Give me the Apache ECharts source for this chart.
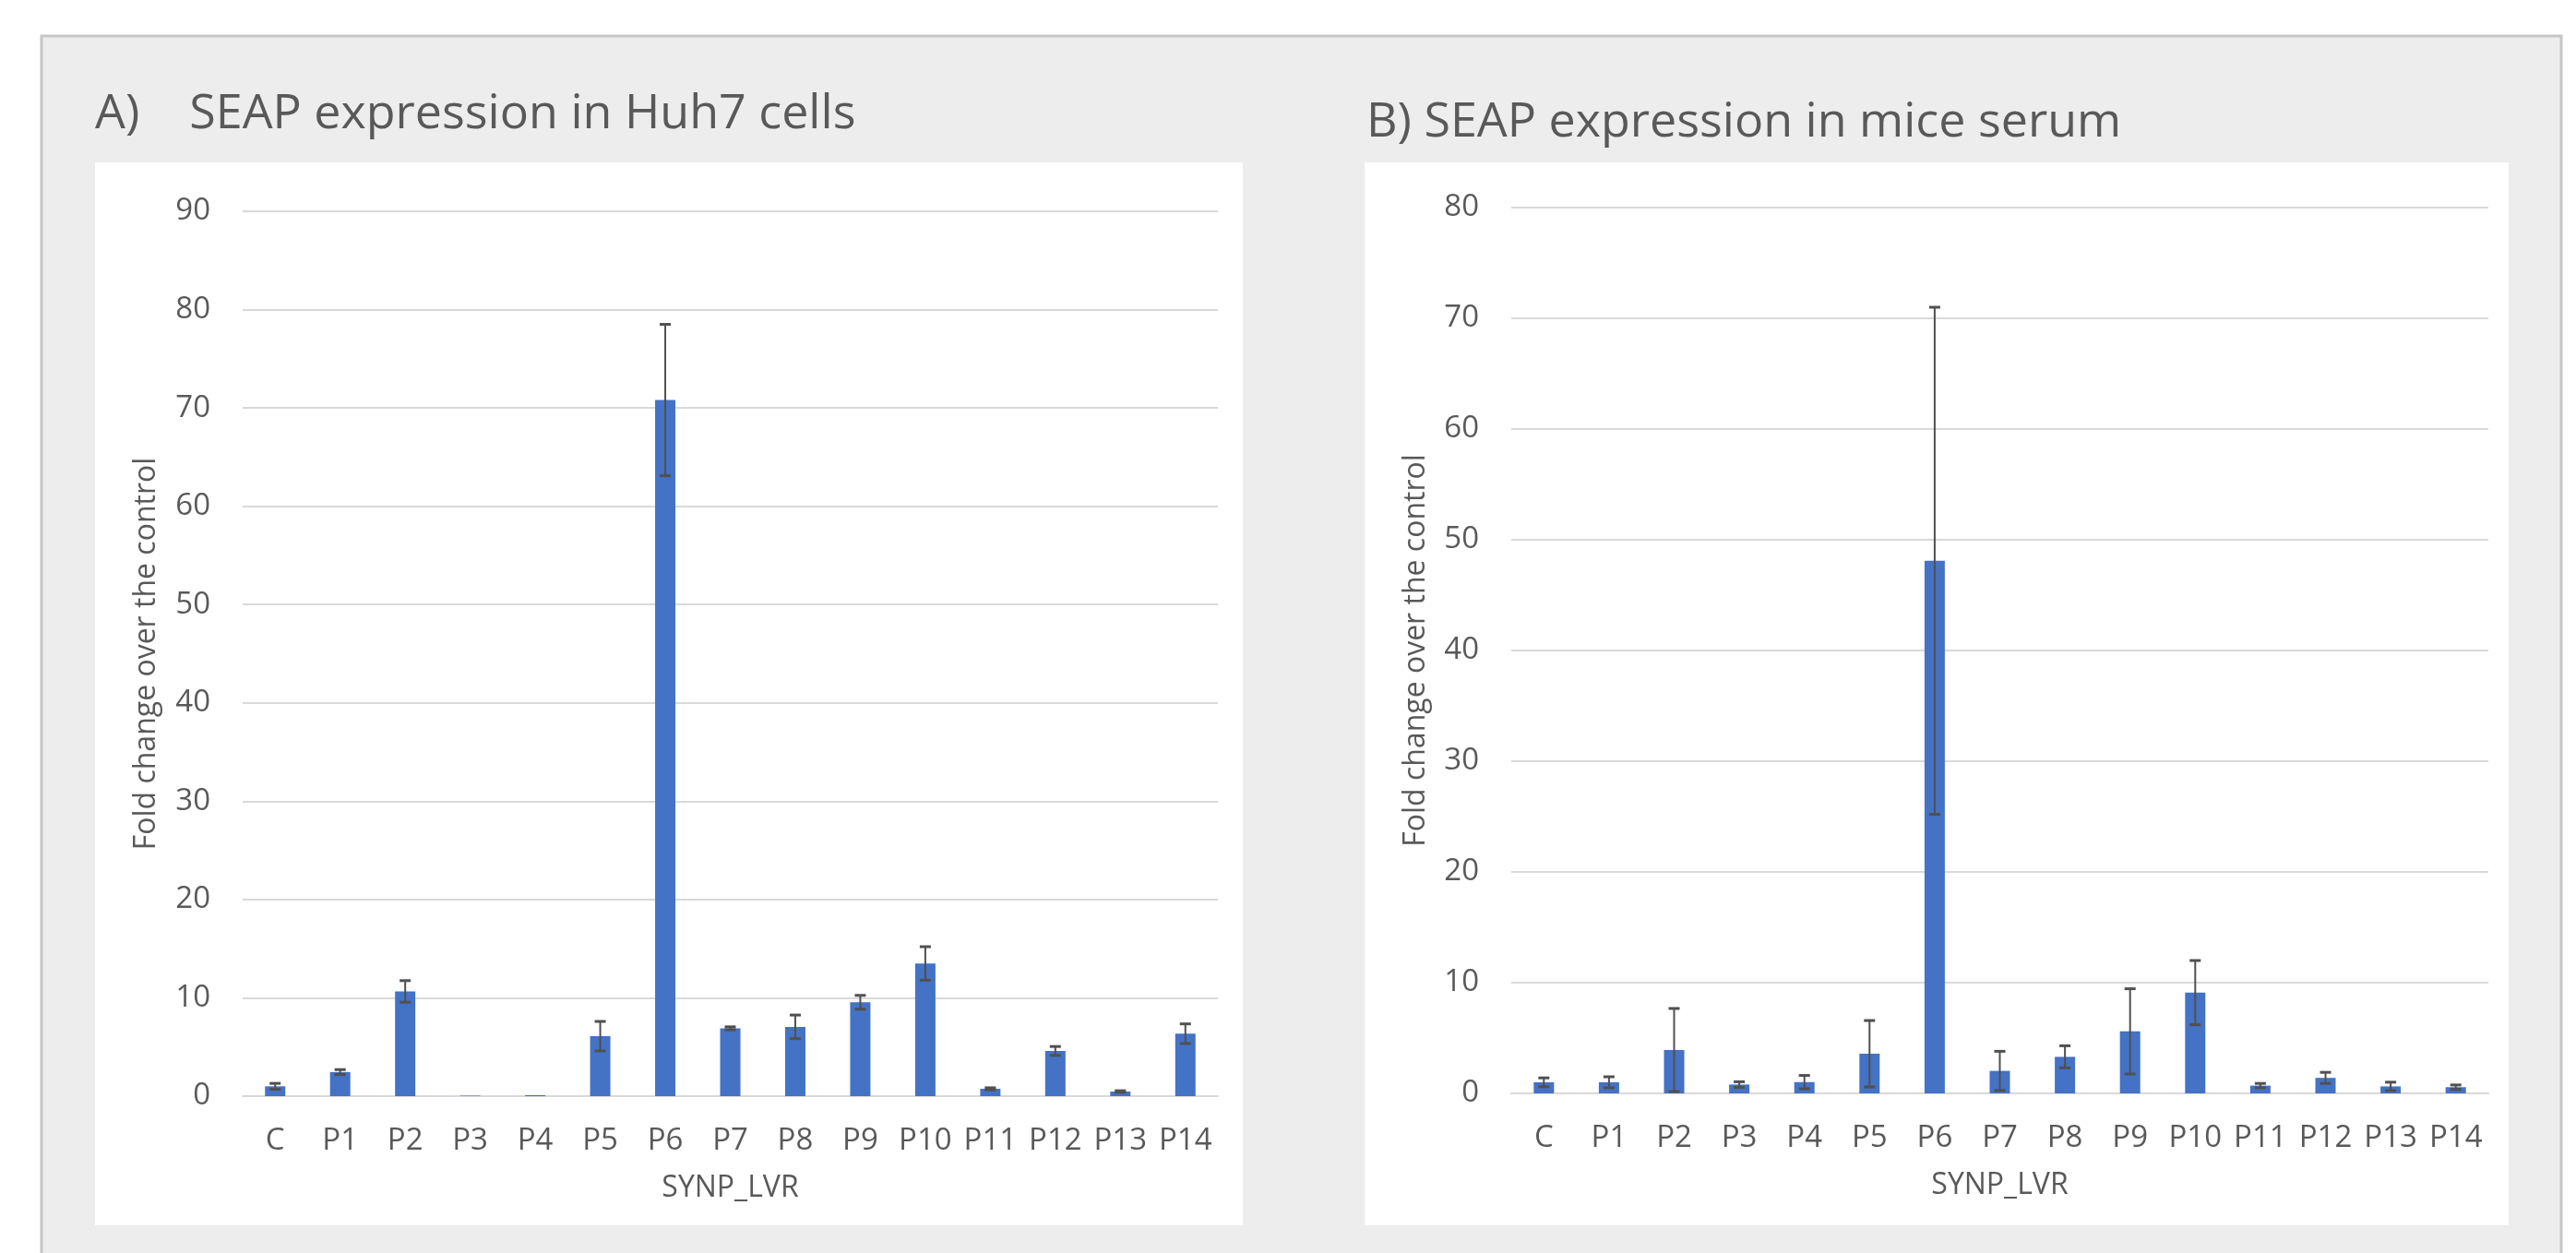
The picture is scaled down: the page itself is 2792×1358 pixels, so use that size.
<!DOCTYPE html>
<html>
<head>
<meta charset="utf-8">
<script src="https://cdn.jsdelivr.net/npm/echarts@6/dist/echarts.min.js"></script>
<style>
html,body{margin:0;padding:0;background:#fff;}
#chart{width:2792px;height:1358px;}
</style>
</head>
<body>
<div id="chart"></div>
<script>
const categories = ['C','P1','P2','P3','P4','P5','P6','P7','P8','P9','P10','P11','P12','P13','P14'];
const huh7Mean = [1.0, 2.45, 10.65, 0.05, 0.1, 6.1, 70.8, 6.9, 7.05, 9.55, 13.5, 0.75, 4.6, 0.47, 6.35];
const huh7Err  = [0.3, 0.25, 1.1, 0.0, 0.0, 1.5, 7.7, 0.15, 1.2, 0.7, 1.7, 0.1, 0.45, 0.08, 1.0];
const serumMean = [1.0, 1.0, 3.92, 0.8, 1.02, 3.58, 48.1, 2.03, 3.3, 5.6, 9.1, 0.7, 1.4, 0.63, 0.56];
const serumErr  = [0.4, 0.5, 3.75, 0.25, 0.6, 3.0, 22.9, 1.77, 1.0, 3.85, 2.9, 0.2, 0.5, 0.38, 0.2];
const huh7Ticks = {min:0, max:90, interval:10};
const serumTicks = {min:0, max:80, interval:10};
const titleA = 'A)    SEAP expression in Huh7 cells';
const titleB = 'B) SEAP expression in mice serum';
const xName = 'SYNP_LVR';
const yName = 'Fold change over the control';

const FONT = '"Open Sans", "Noto Sans", sans-serif';
const TXT = '#595959';

function errRender(params, api){
  const i = api.value(0), lo = api.value(1), hi = api.value(2);
  if (hi - lo <= 0) return null;
  const t = api.coord([i, hi]);
  const b = api.coord([i, lo]);
  const hw = 6;
  const st = {stroke:'#505050', lineWidth:2};
  return {type:'group', children:[
    {type:'line', shape:{x1:t[0], y1:t[1], x2:b[0], y2:b[1]}, style:st},
    {type:'line', shape:{x1:t[0]-hw, y1:t[1], x2:t[0]+hw, y2:t[1]}, style:{stroke:'#505050', lineWidth:3}},
    {type:'line', shape:{x1:b[0]-hw, y1:b[1], x2:b[0]+hw, y2:b[1]}, style:{stroke:'#505050', lineWidth:3}}
  ]};
}

function xAxis(gi){
  return {
    type:'category', gridIndex:gi, data:categories,
    name:xName, nameLocation:'middle', nameGap:84,
    nameTextStyle:{fontFamily:FONT, fontSize:32, color:TXT},
    axisLine:{show:true, lineStyle:{color:'#d9d9d9', width:2}},
    axisTick:{show:false},
    axisLabel:{fontFamily:FONT, fontSize:33, color:TXT, margin:32, interval:0}
  };
}
function yAxis(gi, ticks, gap){
  return {
    type:'value', gridIndex:gi, min:ticks.min, max:ticks.max, interval:ticks.interval,
    name:yName, nameLocation:'middle', nameGap:gap, nameRotate:90,
    nameTextStyle:{fontFamily:FONT, fontSize:32, color:TXT},
    axisLine:{show:false}, axisTick:{show:false},
    axisLabel:{fontFamily:FONT, fontSize:33, color:TXT, margin:35},
    splitLine:{show:true, lineStyle:{color:'#d9d9d9', width:2}}
  };
}

const chart = echarts.init(document.getElementById('chart'), null, {renderer:'canvas'});
chart.setOption({
  animation:false,
  backgroundColor:'#ffffff',
  graphic:[
    {type:'rect', z:-10, shape:{x:45, y:39, width:2731, height:1340}, style:{fill:'#ededed', stroke:'#c6c6c6', lineWidth:3}},
    {type:'rect', z:-9, shape:{x:103, y:176, width:1244, height:1152}, style:{fill:'#ffffff'}},
    {type:'rect', z:-9, shape:{x:1479, y:176, width:1240, height:1152}, style:{fill:'#ffffff'}},
    {type:'text', z:5, x:103, y:124, style:{text:titleA, fontFamily:FONT, fontSize:52, fill:TXT, verticalAlign:'middle', align:'left'}},
    {type:'text', z:5, x:1481, y:133, style:{text:titleB, fontFamily:FONT, fontSize:52, fill:TXT, verticalAlign:'middle', align:'left'}}
  ],
  grid:[
    {left:263, top:229, width:1057, height:959},
    {left:1638, top:225, width:1059, height:960}
  ],
  xAxis:[xAxis(0), xAxis(1)],
  yAxis:[yAxis(0, huh7Ticks, 88), yAxis(1, serumTicks, 87)],
  series:[
    {type:'bar', xAxisIndex:0, yAxisIndex:0, data:huh7Mean, barWidth:22, itemStyle:{color:'#4472c4'}},
    {type:'custom', xAxisIndex:0, yAxisIndex:0, renderItem:errRender, z:5,
     data:huh7Mean.map((m,i)=>[i, m-huh7Err[i], m+huh7Err[i]])},
    {type:'bar', xAxisIndex:1, yAxisIndex:1, data:serumMean, barWidth:22, itemStyle:{color:'#4472c4'}},
    {type:'custom', xAxisIndex:1, yAxisIndex:1, renderItem:errRender, z:5,
     data:serumMean.map((m,i)=>[i, m-serumErr[i], m+serumErr[i]])}
  ]
});
</script>
</body>
</html>
